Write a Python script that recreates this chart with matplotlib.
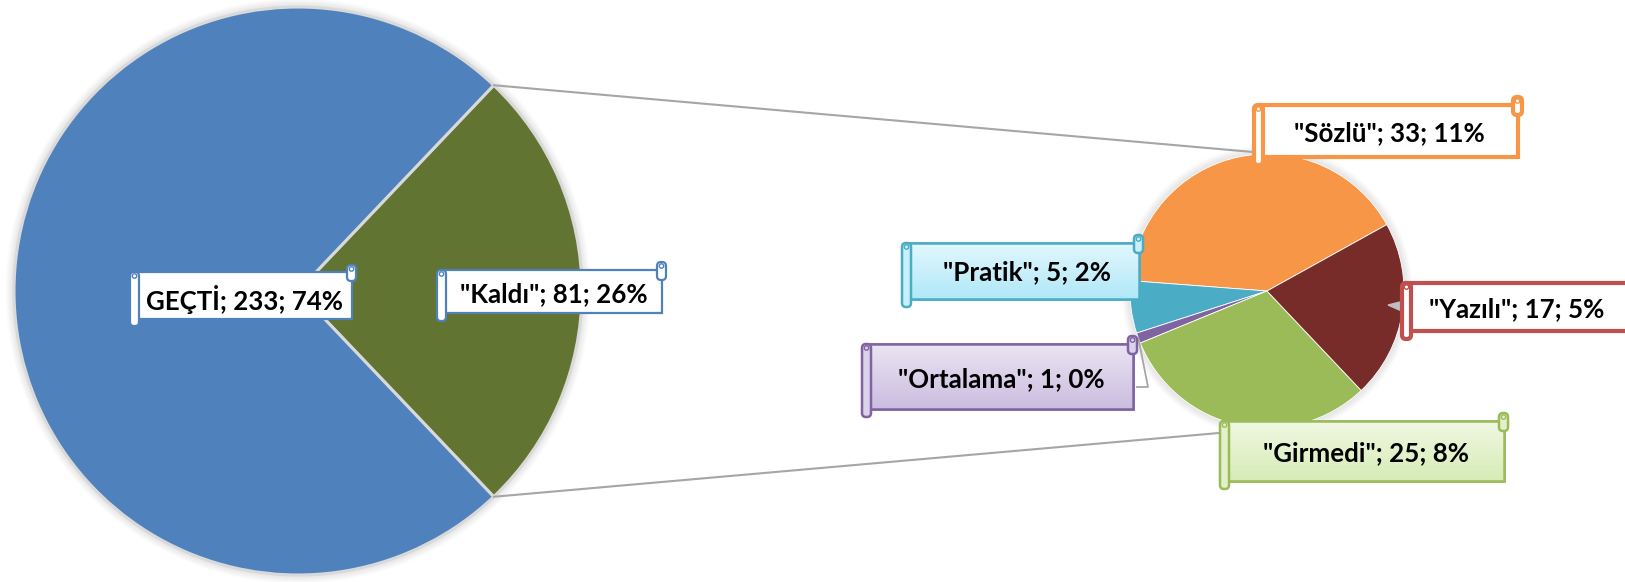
import matplotlib
matplotlib.use('Agg')
import matplotlib.pyplot as plt
from matplotlib.patches import Rectangle, FancyBboxPatch, Circle
from matplotlib.colors import LinearSegmentedColormap
import numpy as np

W, H = 1625, 582

# ---- data ----
main_labels = ['GEÇTİ', 'Kaldı']
main_values = [233, 81]
sub_labels = ['Sözlü', 'Pratik', 'Ortalama', 'Girmedi', 'Yazılı']
sub_values = [33, 5, 1, 25, 17]

main_colors = ['#4F81BD', '#627431']
sub_colors = ['#F79646', '#4BACC6', '#8064A2', '#9BBB59', '#772C2A']

total = sum(main_values)

fig = plt.figure(figsize=(W / 100, H / 100), dpi=100)
ax = fig.add_axes([0, 0, 1, 1])


def Y(y):
    return H - y


FONT = ['Lato', 'DejaVu Sans']
FS = 18.6

# ---- geometry ----
L_CX, L_CY, L_R = 298, Y(291), 284
R_CX, R_CY, R_R = 1267, Y(291), 137


def glow(cx, cy, r):
    for k in range(9):
        ax.add_patch(Circle((cx, cy), r + k * 1.0, fc='none', ec='black',
                            lw=1.6, alpha=0.05 * (1 - k / 9), zorder=1))


glow(L_CX, L_CY, L_R)
glow(R_CX, R_CY, R_R)

# main pie: "Kaldı" slice centred on the right
half = 180.0 * main_values[1] / total
ax.pie([main_values[1], main_values[0]], colors=[main_colors[1], main_colors[0]],
       startangle=-half, counterclock=True, center=(L_CX, L_CY), radius=L_R,
       wedgeprops=dict(edgecolor='#D9D9D9', linewidth=2.2, zorder=2))

# secondary pie
ax.pie(sub_values, colors=sub_colors, startangle=29, counterclock=True,
       center=(R_CX, R_CY), radius=R_R,
       wedgeprops=dict(edgecolor='white', linewidth=0.6, zorder=2))

# connector lines
a = np.deg2rad(half)
ax.plot([L_CX + L_R * np.cos(a), R_CX - 14], [L_CY + L_R * np.sin(a), R_CY + R_R + 2],
        color='#A6A6A6', lw=1.5, zorder=3, solid_capstyle='round')
ax.plot([L_CX + L_R * np.cos(-a), R_CX - 14], [L_CY + L_R * np.sin(-a), R_CY - R_R - 2],
        color='#A6A6A6', lw=1.5, zorder=3, solid_capstyle='round')

# leader for the tiny "Ortalama" slice
cum = np.cumsum([0] + sub_values)
mid = 29 + 360.0 * (cum[2] + sub_values[2] / 2) / sum(sub_values)
mr = np.deg2rad(mid)
px, py = R_CX + R_R * np.cos(mr), R_CY + R_R * np.sin(mr)
ax.plot([px, 1148, 1137], [py, Y(387), Y(387)], color='#A6A6A6', lw=1.3, zorder=3)

# small pointer of the "Yazılı" label
ax.fill([1388, 1404, 1404], [Y(305), Y(301), Y(312)], color='#BFBFBF', zorder=3)


def scroll(x0, y0, x1, y1, face, edge, lw=1.5, c=7, w=9, grad=None):
    bw = (x1 - w / 2) - (x0 + w / 2)
    bh = (y1 - c) - (y0 + c)
    body = Rectangle((x0 + w / 2, Y(y1 - c)), bw, bh, fc=face, ec=edge, lw=lw, zorder=6)
    ax.add_patch(body)
    if grad is not None:
        g = np.linspace(0, 1, 64).reshape(-1, 1)
        cm = LinearSegmentedColormap.from_list('g', grad)
        im = ax.imshow(g, cmap=cm, extent=(x0 + w / 2, x1 - w / 2, Y(y1 - c), Y(y0 + c)),
                       origin='upper', aspect='auto', zorder=6.1)
        im.set_clip_path(body)
        ax.add_patch(Rectangle((x0 + w / 2, Y(y1 - c)), bw, bh, fc='none', ec=edge,
                               lw=lw, zorder=6.2))
    # left roll (extends below)
    ax.add_patch(FancyBboxPatch((x0, Y(y1)), w, y1 - (y0 + c),
                                boxstyle='round,pad=0,rounding_size=4',
                                fc=face, ec=edge, lw=lw, zorder=6.5))
    ax.add_patch(Circle((x0 + w / 2, Y(y0 + c + 4)), 2.2, fc='none', ec=edge, lw=1, zorder=6.6))
    # right curl (extends above)
    ax.add_patch(FancyBboxPatch((x1 - w, Y(y0 + 2 * c + 2)), w, 2 * c + 2,
                                boxstyle='round,pad=0,rounding_size=4',
                                fc=face, ec=edge, lw=lw, zorder=6.5))
    ax.add_patch(Circle((x1 - w / 2, Y(y0 + 4)), 2.2, fc='none', ec=edge, lw=1, zorder=6.6))


def label(text, x, y):
    ax.text(x, Y(y), text, ha='center', va='center', fontsize=FS,
            fontweight='bold', family=FONT, color='black', zorder=8)


def pct(v):
    return f"{round(100 * v / total):.0f}%"


# main labels
scroll(130, 265, 356, 326, 'white', '#4F81BD', lw=1.6)
label(f"{main_labels[0]}; {main_values[0]}; {pct(main_values[0])}", 244, 299)
scroll(437, 262, 666, 321, 'white', '#4F81BD', lw=1.6, c=8)
label(f'"{main_labels[1]}"; {main_values[1]}; {pct(main_values[1])}', 554, 294)

# secondary labels
boxes = {
    'Sözlü': ((1254, 97, 1522, 165), 'white', '#F79646', 3.0, None, (1389, 133)),
    'Pratik': ((902, 235, 1143, 307), '#C8EFFA', '#4BACC6', 1.8,
               ['#E2F7FD', '#B0E8F8'], (1027, 272)),
    'Ortalama': ((862, 336, 1137, 417), '#DCD2EA', '#8064A2', 1.8,
                 ['#EAE4F2', '#CBBDE0'], (1001, 379)),
    'Girmedi': ((1220, 413, 1508, 489), '#E2F1CC', '#9BBB59', 1.8,
                ['#F0F8E2', '#D6ECB6'], (1366, 453)),
    'Yazılı': ((1402, 275, 1650, 339), 'white', '#C0504D', 3.0, None, (1517, 309)),
}
for name, v in zip(sub_labels, sub_values):
    (x0, y0, x1, y1), face, edge, lw, grad, (tx, ty) = boxes[name]
    scroll(x0, y0, x1, y1, face, edge, lw=lw, c=8, grad=grad)
    label(f'"{name}"; {v}; {pct(v)}', tx, ty)

ax.set_xlim(0, W)
ax.set_ylim(0, H)
ax.set_aspect('equal')
ax.axis('off')

fig.savefig('out.png', dpi=100, facecolor='white')
